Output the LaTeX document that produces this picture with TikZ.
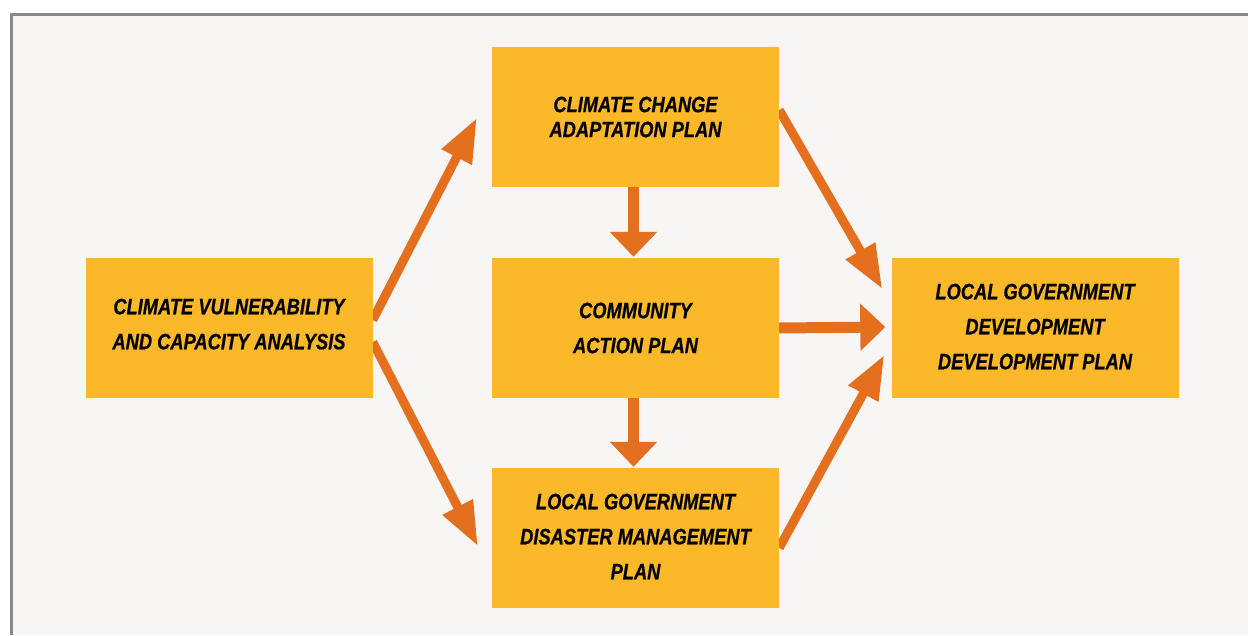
\documentclass[tikz,border=0pt]{standalone}
\usepackage{fontspec}
\newfontfamily\boxfont[FakeStretch=0.82, FakeBold=0.6]{Liberation Sans}
\usepackage{xcolor}
\usetikzlibrary{positioning, calc, arrows.meta, backgrounds}
\definecolor{boxyellow}{HTML}{FBB829}
\definecolor{arroworange}{HTML}{E4701F}
\definecolor{paper}{HTML}{F7F6F4}
\definecolor{framegray}{HTML}{898989}
\tikzset{
    plan/.style={fill=boxyellow, draw=none, minimum width=287pt, minimum height=140pt,
        inner sep=0pt, align=center, text=black,
        font=\boxfont\bfseries\itshape\fontsize{22.3}{35}\selectfont}, % the yellow boxes
    flow/.style={draw=arroworange, line width=9pt, -{Triangle[width=32pt, length=44pt]}}, % slanted arrows
    step down/.style={draw=arroworange, line width=11pt, -{Triangle[width=46pt, length=25pt]}}, % straight arrows
}

\begin{document}
\begin{tikzpicture}[x=1pt, y=-1pt, on grid]
    \useasboundingbox (0,0) rectangle (1248,635);
    \begin{pgfonlayer}{background}
        \fill[paper] (10,13) rectangle (1248,635);
        \draw[framegray, line width=3pt] (11.5,635) -- (11.5,14.5) -- (1248,14.5);
    \end{pgfonlayer}

    % Boxes
    \node[plan, text depth=8pt] (cvca) at (229,328) {CLIMATE VULNERABILITY\\AND CAPACITY ANALYSIS};
    \node[plan] (cap) [right=406.5pt of cvca] {COMMUNITY\\ACTION PLAN};
    \node[plan, font=\boxfont\bfseries\itshape\fontsize{22.3}{25}\selectfont] (ccap) [above=211pt of cap] {CLIMATE CHANGE\\ADAPTATION PLAN};
    \node[plan, text depth=3pt] (ldmp) [below=210pt of cap] {LOCAL GOVERNMENT\\DISASTER MANAGEMENT\\PLAN};
    \node[plan, text depth=3pt] (lgdp) [right=399.5pt of cap] {LOCAL GOVERNMENT\\DEVELOPMENT\\DEVELOPMENT PLAN};

    % Arrows
    \begin{pgfonlayer}{background}
        \draw[flow] ($(cvca.east)+(0,-8)$) -- ($(ccap.west)+(-15,1)$);
        \draw[flow] ($(cvca.east)+(0,14)$) -- ($(ldmp.west)+(-14,8)$);
        \draw[flow] ($(ccap.east)+(0,-7)$) -- ($(lgdp.west)+(-9,-39)$);
        \draw[flow] ($(ldmp.east)+(0,10)$) -- ($(lgdp.west)+(-7,27)$);
        \draw[step down] (cap.east) -- ($(lgdp.west)+(-6,-1)$);
        \draw[step down] ($(ccap.south)+(-2,0)$) -- ($(cap.north)+(-2,-1)$);
        \draw[step down] ($(cap.south)+(-2,0)$) -- ($(ldmp.north)+(-2,-1)$);
    \end{pgfonlayer}
\end{tikzpicture}
\end{document}
